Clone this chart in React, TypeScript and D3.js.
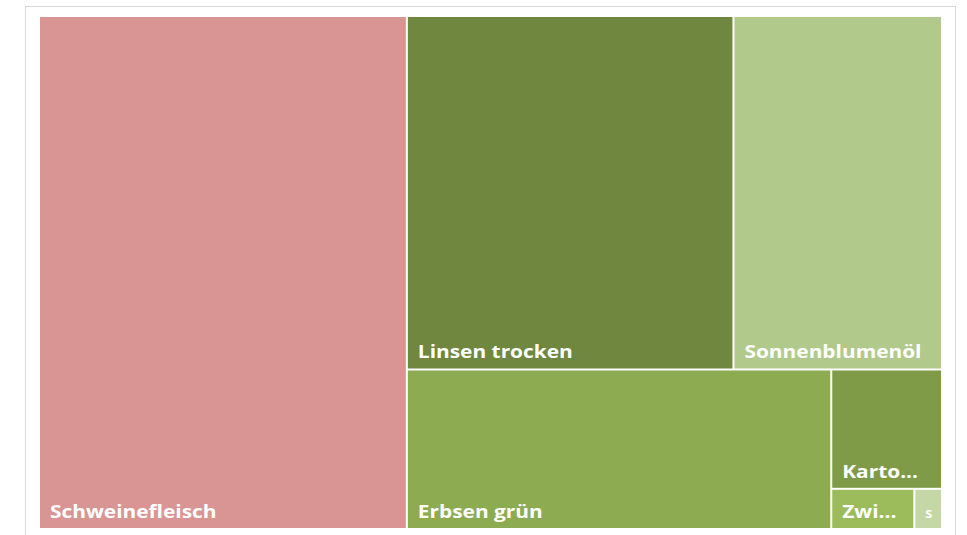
import * as d3 from "d3";

// shares (area of each tile)
const categories = ["Schweinefleisch", "Linsen trocken", "Sonnenblumenöl", "Erbsen grün", "Kartoffeln", "Zwiebeln", "Salz"];
const labels = ["Schweinefleisch", "Linsen trocken", "Sonnenblumenöl", "Erbsen grün", "Karto...", "Zwi...", "S"];
const values = [407, 249, 159, 146, 28.5, 7.2, 2.4];
const colors = ["#D99594", "#6F873F", "#B2C98C", "#8DAB50", "#7F9B48", "#9CBB5A", "#C5D7A7"];
// how the tiles are nested (indices into the arrays above)
const nesting: any = [0, [[1, 2], [3, [4, [5, 6]]]]];

const W = 967;
const H = 535;
const margin = { left: 40, top: 17, right: 26, bottom: 7 };

function build(n: any): any {
    if (typeof n === "number") return { i: n, value: values[n] };
    return { children: n.map(build) };
}

export default function App() {
    const innerW = W - margin.left - margin.right;
    const innerH = H - margin.top - margin.bottom;

    const root = d3.hierarchy(build(nesting)).sum((d: any) => (d.children ? 0 : d.value));
    d3.treemap().tile(d3.treemapSliceDice).size([innerW, innerH]).paddingInner(2)(root as any);
    const leaves = root.leaves() as any[];

    return (
        <svg width={W} height={H} style={{ position: "absolute", left: 0, top: 0 }}>
            <rect x={25.5} y={6.5} width={930} height={540} fill="#fff" stroke="#D9D9D9" strokeWidth={1} />
            <g transform={`translate(${margin.left},${margin.top})`}>
                {leaves.map((d) => (
                    <g key={d.data.i}>
                        <rect x={d.x0} y={d.y0} width={d.x1 - d.x0} height={d.y1 - d.y0} fill={colors[d.data.i]} />
                        {/* labels in the source look stretched sideways */}
                        <text
                            transform={`translate(${d.x0 + 10},${d.y1 - 10}) scale(1.16,1)`}
                            fill="#fff"
                            fontFamily="'Open Sans', sans-serif"
                            fontWeight={700}
                            fontSize={d.data.i === 6 ? 11 : 18}
                        >
                            {labels[d.data.i]}
                        </text>
                        <title>{categories[d.data.i]}</title>
                    </g>
                ))}
            </g>
        </svg>
    );
}
